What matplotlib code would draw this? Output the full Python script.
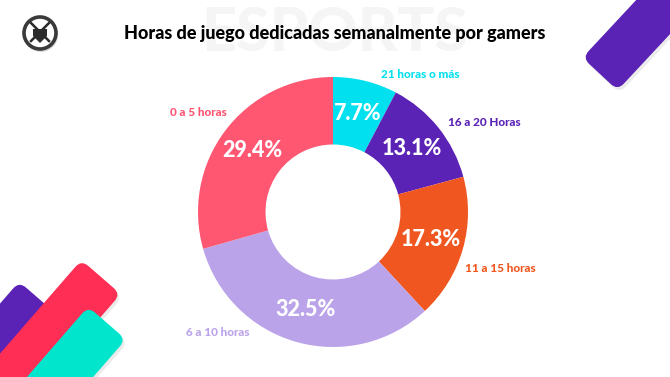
import matplotlib
matplotlib.use("Agg")
import matplotlib.pyplot as plt
from matplotlib.patches import FancyBboxPatch, Circle, Polygon
from matplotlib.transforms import Affine2D

W, H = 670, 377

# ---------- data ----------
labels = ["21 horas o más", "16 a 20 Horas", "11 a 15 horas", "6 a 10 horas", "0 a 5 horas"]
values = [7.7, 13.1, 17.3, 32.5, 29.4]
colors = ["#00E0EE", "#5A22B5", "#F0561F", "#BBA3EA", "#FF5672"]
title = "Horas de juego dedicadas semanalmente por gamers"

FONT = ["Lato", "DejaVu Sans"]

fig = plt.figure(figsize=(W / 100, H / 100), dpi=100)
fig.patch.set_facecolor("white")

# ---------- background decorations (pixel coords, y from top) ----------
bg = fig.add_axes([0, 0, 1, 1])
bg.set_xlim(0, W)
bg.set_ylim(H, 0)
bg.axis("off")


def bar(x, y, angle, width, color, length=320, z=1):
    # rounded bar, end cap centred at (x, y), body running off at `angle`
    p = FancyBboxPatch((0, -width / 2), length, width,
                       boxstyle="round,pad=0,rounding_size=9",
                       fc=color, ec="none", zorder=z)
    p.set_transform(Affine2D().rotate_deg(angle).translate(x, y) + bg.transData)
    sh = FancyBboxPatch((0, -width / 2), length, width,
                        boxstyle="round,pad=0,rounding_size=9",
                        fc="#000000", ec="none", alpha=0.08, zorder=z - 0.1)
    sh.set_transform(Affine2D().rotate_deg(angle).translate(x + 2, y + 3) + bg.transData)
    bg.add_patch(sh)
    bg.add_patch(p)


bar(600, 74, -47, 48, "#5A22B5", z=2)
bar(38, 298, 131, 50, "#5A22B5", z=2)
bar(101, 277, 131, 52, "#FF2E55", z=3)
bar(107, 323, 131, 50, "#00E5CC", z=4)

# logo
bg.add_patch(Circle((41, 35), 17, fc="#bbbbbb", ec="none", alpha=0.5, zorder=2))
bg.add_patch(Circle((40, 33), 16, fc="white", ec="#3a3a3a", lw=2.6, zorder=3))
bg.add_patch(Polygon([(33, 29), (47, 29), (47, 36), (40, 43), (33, 36)],
                     closed=True, fc="#2b2b2b", ec="none", zorder=4))
bg.plot([31, 49], [23, 41], color="#2b2b2b", lw=1.8, zorder=4)
bg.plot([49, 31], [23, 41], color="#2b2b2b", lw=1.8, zorder=4)

# watermark + title
bg.text(335, 33, "ESPORTS", ha="center", va="center", fontsize=44,
        fontweight="black", family=FONT, color="#f5f5f5", zorder=1)
bg.text(335, 33, title, ha="center", va="center", fontsize=13,
        fontweight="black", family=FONT, color="black", zorder=5)

# ---------- donut ----------
cx, cy, r = 333, 212, 135
ax = fig.add_axes([(cx - r) / W, (H - cy - r) / H, 2 * r / W, 2 * r / H])
wedges, _, pcts = ax.pie(values, colors=colors, startangle=90, counterclock=False,
                         radius=1, autopct="%.1f%%", pctdistance=0.75,
                         wedgeprops=dict(width=0.5, edgecolor="none"))
for t in pcts:
    t.set_color("white")
    t.set_fontsize(15.5)
    t.set_fontweight("black")
    t.set_family(FONT)
ax.set_xlim(-1, 1)
ax.set_ylim(-1, 1)

# category labels
label_pos = [(420, 74), (484, 123), (500, 268), (218, 332), (198, 112)]
for lab, col, (x, y) in zip(labels, colors, label_pos):
    fig.text(x / W, 1 - y / H, lab, ha="center", va="center", fontsize=8.5,
             fontweight="black", family=FONT, color=col)

fig.savefig("out.png", dpi=100)
